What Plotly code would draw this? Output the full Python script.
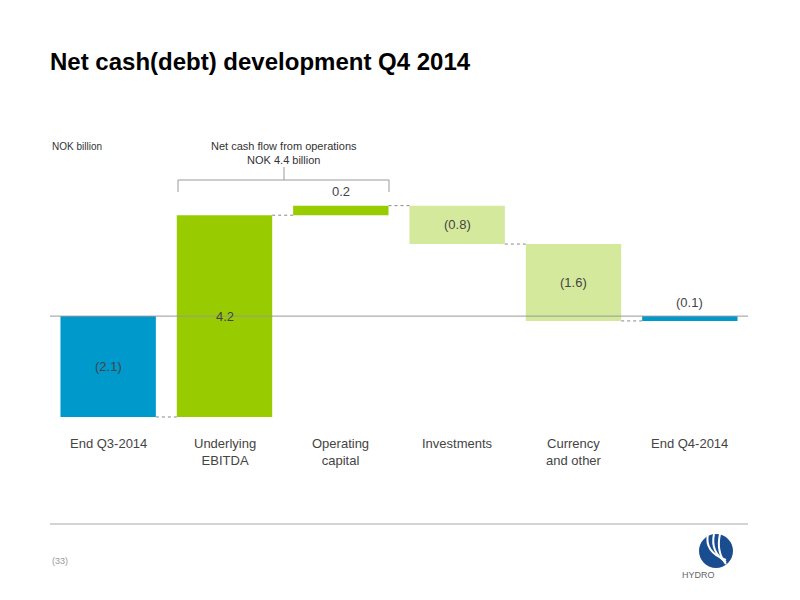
import plotly.graph_objects as go

categories = ["End Q3-2014", "Underlying<br>EBITDA", "Operating<br>capital", "Investments", "Currency<br>and other", "End Q4-2014"]
values = [-2.1, 4.2, 0.2, -0.8, -1.6, -0.1]
labels = ["(2.1)", "4.2", "0.2", "(0.8)", "(1.6)", "(0.1)"]
colors = ["#0099CC", "#99CC00", "#99CC00", "#D5E99D", "#D5E99D", "#0099CC"]

bases, tops = [], []
cum = 0
for i, v in enumerate(values):
    if i == 0:
        b, t = 0, v
    elif i == len(values) - 1:
        b, t = 0, cum
    else:
        b, t = cum, cum + v
    bases.append(b)
    tops.append(t)
    if i < len(values) - 1:
        cum = t

heights = [t - b for b, t in zip(bases, tops)]
fig = go.Figure(go.Bar(x=list(range(6)), y=heights, base=bases, marker_color=colors,
                       marker_line_width=0, hoverinfo="skip"))

def py(p):  # page pixel -> paper y
    return (441 - p) / 269

def px(p):
    return (p - 50) / 698

shapes = []
for i in range(5):
    lvl = tops[i]
    shapes.append(dict(type="line", xref="x", yref="y", x0=i + 0.41, x1=i + 0.59, y0=lvl, y1=lvl,
                       line=dict(color="#888", width=1, dash="dot")))
shapes.append(dict(type="line", xref="paper", yref="y", x0=0, x1=1, y0=0, y1=0, line=dict(color="#999", width=1)))
shapes.append(dict(type="line", xref="paper", yref="paper", x0=0, x1=1, y0=py(524), y1=py(524), line=dict(color="#aaa", width=1)))
# bracket
shapes.append(dict(type="path", xref="paper", yref="paper",
                   path=f"M {px(178)} {py(192)} L {px(178)} {py(180)} L {px(389)} {py(180)} L {px(389)} {py(192)}",
                   line=dict(color="#999", width=1)))
shapes.append(dict(type="line", xref="paper", yref="paper", x0=px(284), x1=px(284), y0=py(180), y1=py(167),
                   line=dict(color="#999", width=1)))
# logo
shapes.append(dict(type="circle", xref="paper", yref="paper", x0=px(699), x1=px(733),
                   y0=py(568), y1=py(534), fillcolor="#1a4d8f", line=dict(width=0)))
for dx in (0, 6, 12):
    shapes.append(dict(type="path", xref="paper", yref="paper",
                       path=f"M {px(708+dx)} {py(534)} Q {px(704+dx)} {py(552)} {px(726)} {py(560+dx/3)}",
                       line=dict(color="white", width=2)))

ann = []
for i, (b, t, lab) in enumerate(zip(bases, tops, labels)):
    h = abs(t - b)
    if h < 0.5:
        y, yshift = max(b, t), 14
    else:
        y, yshift = (b + t) / 2, 0
    ann.append(dict(x=i, y=y, text=lab, showarrow=False, yshift=yshift, font=dict(size=13, color="#444")))
for i, c in enumerate(categories):
    ann.append(dict(x=i, y=py(434), xref="x", yref="paper", yanchor="top", text=c, showarrow=False,
                    font=dict(size=13, color="#444")))
ann.append(dict(x=px(284), y=py(138), xref="paper", yref="paper", text="Net cash flow from operations<br>NOK 4.4 billion",
                showarrow=False, font=dict(size=11, color="#333")))
ann.append(dict(x=0, y=py(139), xref="paper", yref="paper", xanchor="left", text="NOK billion", showarrow=False,
                font=dict(size=10, color="#333")))
ann.append(dict(x=0, y=py(568), xref="paper", yref="paper", xanchor="left", text="(33)", showarrow=False,
                font=dict(size=9, color="#999")))
ann.append(dict(x=px(717), y=py(582), xref="paper", yref="paper", text="HYDRO", showarrow=False,
                font=dict(size=9, color="#666")))

fig.update_layout(
    width=800, height=600, plot_bgcolor="white", paper_bgcolor="white",
    margin=dict(l=42, r=60, t=164, b=167), showlegend=False, bargap=0.18,
    font=dict(family="Liberation Sans, Arial", color="#333"),
    title=dict(text="<b>Net cash(debt) development Q4 2014</b>", x=42/800, xanchor="left",
               y=1 - 54/600, yanchor="middle", font=dict(size=24, color="black")),
    xaxis=dict(range=[-0.5, 5.5], showticklabels=False, showgrid=False,
               zeroline=False, showline=False, ticks=""),
    yaxis=dict(range=[-2.6, 3.0], visible=False),
    shapes=shapes, annotations=ann,
)
fig.write_html("out.html")
